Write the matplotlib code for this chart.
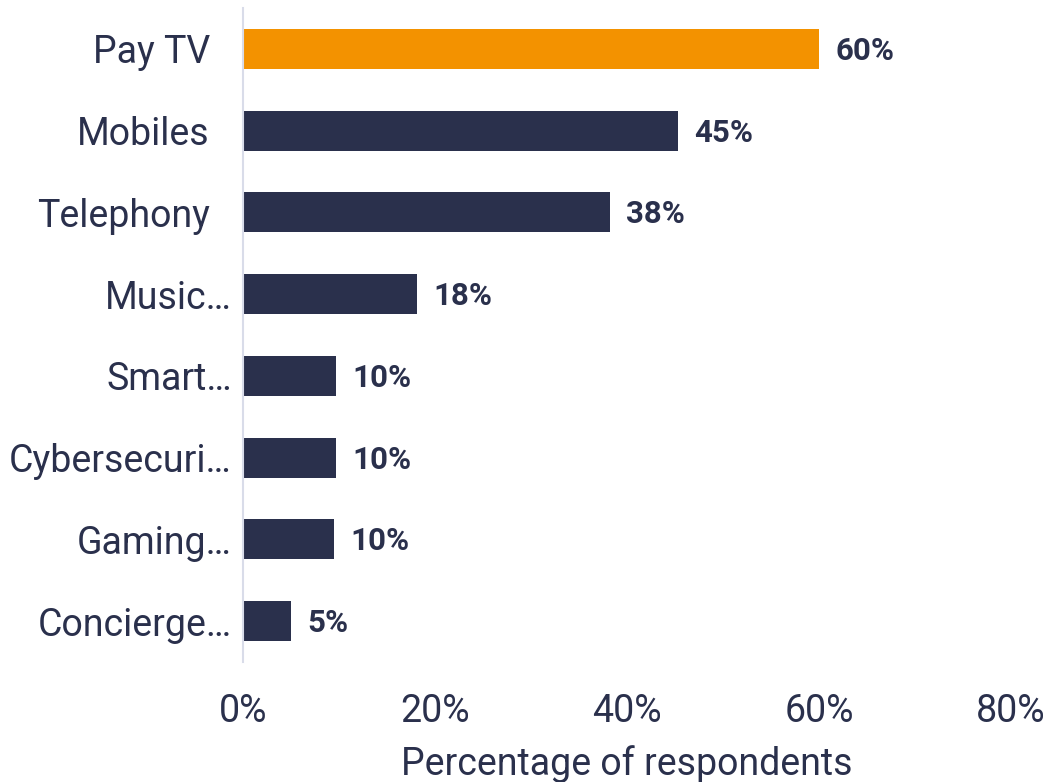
import matplotlib.pyplot as plt
from matplotlib.transforms import ScaledTranslation

categories = ['Pay TV', 'Mobiles', 'Telephony', 'Music…', 'Smart…',
              'Cybersecuri…', 'Gaming…', 'Concierge…']
values = [60.0, 45.3, 38.2, 18.1, 9.7, 9.7, 9.5, 5.0]
value_labels = ['60%', '45%', '38%', '18%', '10%', '10%', '10%', '5%']
xticks = [0, 20, 40, 60, 80]
xtick_labels = ['0%', '20%', '40%', '60%', '80%']

navy = '#2a304c'
orange = '#f39200'
colors = [orange] + [navy] * (len(values) - 1)

plt.rcParams['font.family'] = ['Roboto', 'DejaVu Sans']

fig = plt.figure(figsize=(10.48, 7.82), dpi=100)
ax = fig.add_axes([243 / 1048, 120 / 782, 768 / 1048, 654 / 782])

ypos = list(range(len(categories)))
ax.barh(ypos, values, height=0.49, color=colors)
ax.set_ylim(len(categories) - 0.5, -0.5)
ax.set_xlim(0, 80)

for y, v, lab in zip(ypos, values, value_labels):
    ax.annotate(lab, (v, y), xytext=(12, -1.5), textcoords='offset points',
                va='center', ha='left', fontsize=22.5, fontweight='bold',
                color=navy)

ax.set_yticks(ypos)
ax.set_yticklabels(categories, fontsize=27, color=navy)
ax.tick_params(axis='y', length=0, pad=8)
# labels without the ellipsis sit a bit further from the axis
for t in ax.get_yticklabels():
    if not t.get_text().endswith('…'):
        t.set_transform(t.get_transform() + ScaledTranslation(-22 / 100, 0, fig.dpi_scale_trans))

ax.set_xticks(xticks)
ax.set_xticklabels(xtick_labels, fontsize=27, color=navy)
ax.tick_params(axis='x', length=0, pad=22)
ax.set_xlabel('Percentage of respondents', fontsize=27, color=navy, labelpad=11)

for s in ['top', 'right', 'bottom']:
    ax.spines[s].set_visible(False)
ax.spines['left'].set_color('#d9dce9')
ax.spines['left'].set_linewidth(1.5)

fig.savefig('out.png', dpi=100)
